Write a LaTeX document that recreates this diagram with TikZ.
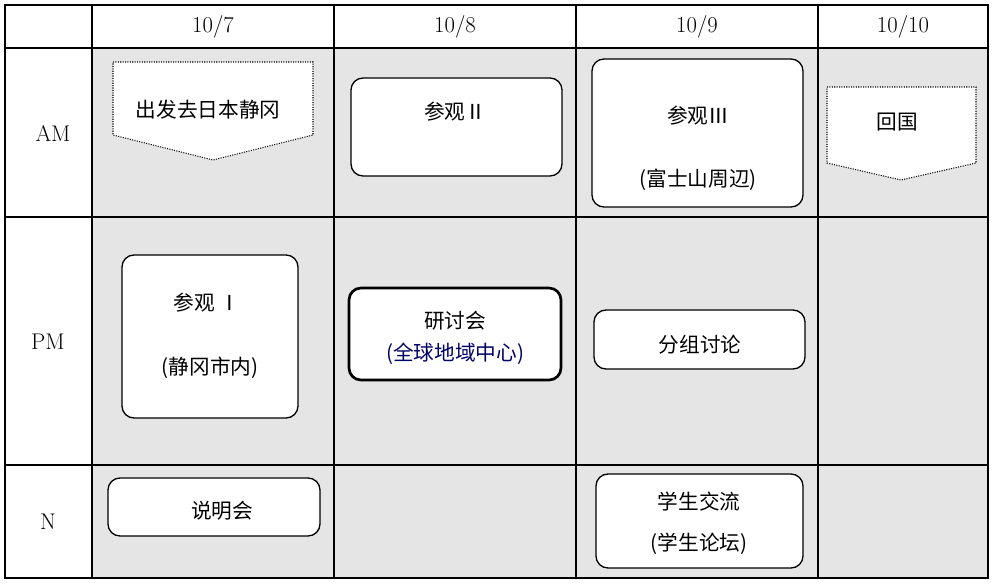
\documentclass[tikz,border=0pt]{standalone}
\usepackage{fontspec}
\newfontfamily\cjk{Noto Sans CJK SC}
\begin{document}
\begin{tikzpicture}[x=0.75pt,y=-0.75pt,
  bx/.style={draw=black,fill=white,rounded corners=9pt,line width=1pt},
  tx/.style={font=\cjk\fontsize{15.5}{17}\selectfont,inner sep=0pt},
  lb/.style={font=\fontsize{17}{19}\selectfont,inner sep=0pt},
  dt/.style={draw=black,fill=white,densely dotted,line width=0.8pt}]
\useasboundingbox (0,0) rectangle (993,583);
\fill[white] (0,0) rectangle (993,583);
\fill[gray!20] (92,48) rectangle (988,578);
\draw[line width=0.8pt] (5,5) rectangle (988,578);
\foreach \x in {92,334,576,818} \draw[line width=0.8pt] (\x,5) -- (\x,578);
\foreach \y in {48,217,465} \draw[line width=0.8pt] (5,\y) -- (988,\y);
\node[lb] (d1) at (213,27) {10/7};
\node[lb] (d2) at (455,27) {10/8};
\node[lb] (d3) at (697,27) {10/9};
\node[lb] (d4) at (903,27) {10/10};
\node[lb] (am) at (53,133) {AM};
\node[lb] (pm) at (48,342) {PM};
\node[lb] (n) at (48,522) {N};
\draw[dt] (113,62) -- (313,62) -- (313,135) -- (213,160) -- (113,135) -- cycle;
\node[tx] (t1) at (208,110) {出发去日本静冈};
\draw[dt] (827,87) -- (976,87) -- (976,163) -- (901,180) -- (827,163) -- cycle;
\node[tx] (t2) at (897,122) {回国};
\draw[bx] (351,78) rectangle (562,176);
\node[tx] (t3) at (455,112) {参观Ⅱ};
\draw[bx] (592,59) rectangle (803,207);
\node[tx] (t4) at (698,116) {参观Ⅲ};
\node[tx] (t5) at (698,180) {(富士山周辺)};
\draw[bx] (122,255) rectangle (298,418);
\node[tx] (t6) at (207,303) {参观 Ⅰ};
\node[tx] (t7) at (210,368) {(静冈市内)};
\draw[bx,line width=2pt] (349,288) rectangle (561,380);
\node[tx] (t8) at (455,321) {研讨会};
\node[tx,text=blue!40!black] (t9) at (455,354) {(全球地域中心)};
\draw[bx] (594,310) rectangle (805,369);
\node[tx] (t10) at (700,345) {分组讨论};
\draw[bx] (108,478) rectangle (320,536);
\node[tx] (t11) at (222,511) {说明会};
\draw[bx] (596,474) rectangle (803,568);
\node[tx] (t12) at (699,502) {学生交流};
\node[tx] (t13) at (699,544) {(学生论坛)};
\end{tikzpicture}
\end{document}
